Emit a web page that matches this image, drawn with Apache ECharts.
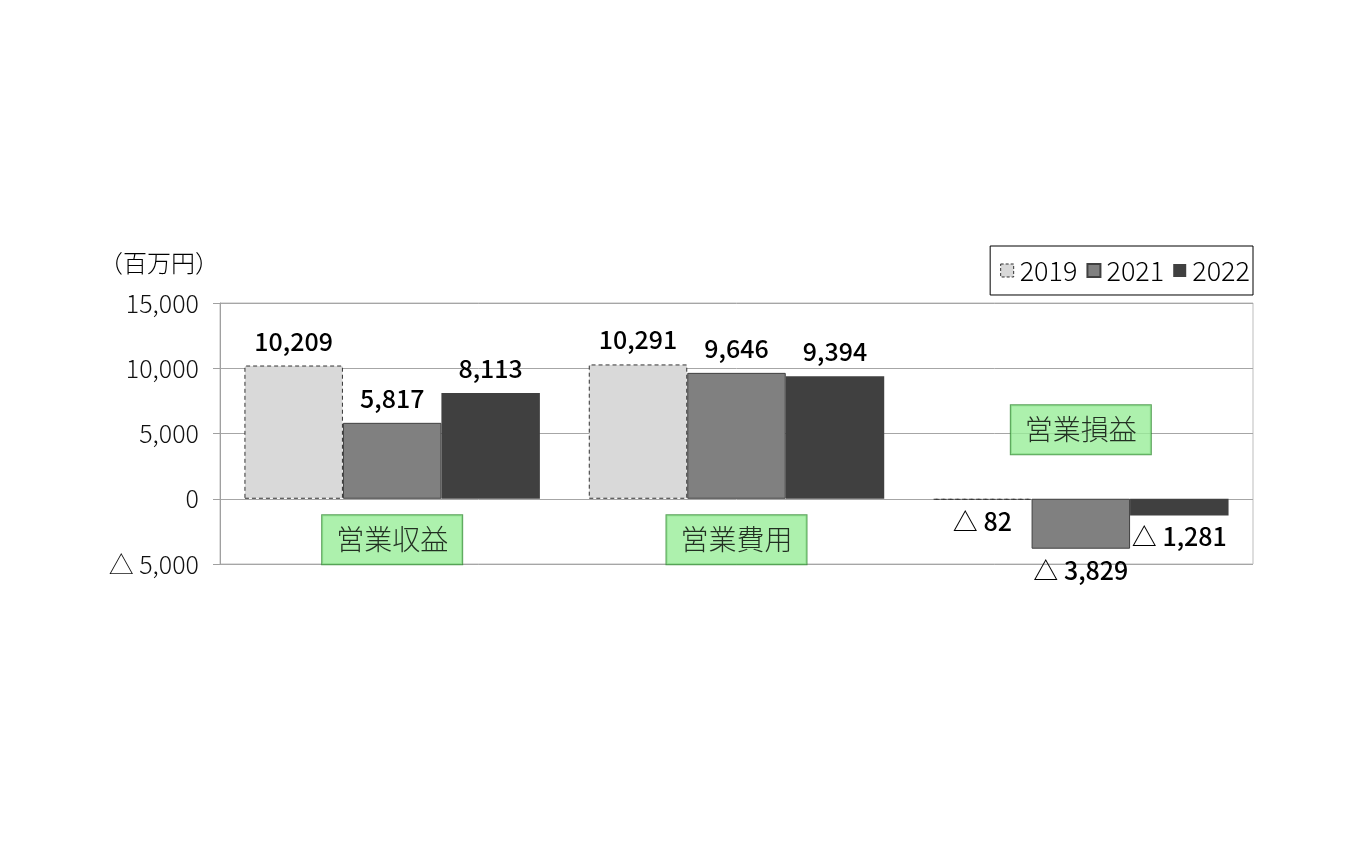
<!DOCTYPE html>
<html><head><meta charset="utf-8">
<script src="https://cdn.jsdelivr.net/npm/echarts@6/dist/echarts.min.js"></script>
<style>html,body{margin:0;padding:0;background:#fff}#c{width:1350px;height:844px}</style>
</head><body><div id="c"></div>
<script>
const categories = ['営業収益', '営業費用', '営業損益'];
const years = ['2019', '2021', '2022'];
const v2019 = [10209, 10291, -82];
const v2021 = [5817, 9646, -3829];
const v2022 = [8113, 9394, -1281];
const yTicks = [-5000, 0, 5000, 10000, 15000];

function fmt(v) {
  const s = Math.abs(v).toLocaleString('en-US');
  return v < 0 ? '△ ' + s : s;
}
const numFont = "'Liberation Sans Narrow','Noto Sans CJK JP',sans-serif";
const jpFont = "'Noto Sans CJK JP',sans-serif";

const styles = [
  {color: '#d9d9d9', borderColor: '#333333', borderWidth: 1, borderType: [4, 3]},
  {color: '#808080', borderColor: '#404040', borderWidth: 1},
  {color: '#404040', borderColor: '#404040', borderWidth: 0}
];
const seriesVals = [v2019, v2021, v2022];

const barSeries = years.map((y, i) => ({
  name: y,
  type: 'bar',
  barGap: '0%',
  barCategoryGap: '14.2%',
  itemStyle: styles[i],
  data: seriesVals[i].map(v => ({
    value: v,
    label: {position: v < 0 ? 'bottom' : 'top', distance: v < 0 ? 9 : 12}
  })),
  label: {
    show: true,
    color: '#000',
    fontFamily: numFont,
    fontWeight: 500,
    fontSize: 25,
    formatter: p => fmt(p.value)
  }
}));

const tagSeries = {
  name: 'tags',
  type: 'scatter',
  symbolSize: 1,
  itemStyle: {color: 'rgba(0,0,0,0)'},
  silent: true,
  z: 5,
  data: categories.map((c, i) => {
    const neg = seriesVals.every(s => s[i] < 0);
    return {name: c, value: [i, neg ? 5290 : -3150]};
  }),
  label: {
    show: true,
    position: 'inside',
    formatter: p => p.name,
    fontFamily: jpFont,
    fontWeight: 300,
    fontSize: 28,
    color: '#000',
    backgroundColor: '#99ee99',
    borderColor: '#2f8a2f',
    borderWidth: 1,
    padding: [10, 14, 10, 14],
    lineHeight: 29
  }
};

const chart = echarts.init(document.getElementById('c'));
chart.setOption({
  animation: false,
  title: {
    text: '（百万円）',
    left: 94, top: 246,
    textStyle: {fontFamily: jpFont, fontSize: 24, fontWeight: 300, color: '#000'}
  },
  legend: {
    data: years.map((y, i) => ({
      name: y,
      itemStyle: i === 0 ? {borderType: [3, 2], borderColor: '#333', borderWidth: 1} : {}
    })),
    icon: 'rect',
    right: 97, top: 246,
    backgroundColor: '#fff',
    borderColor: '#000',
    borderWidth: 1,
    padding: [11, 3, 11, 10],
    itemGap: 9,
    itemWidth: 13, itemHeight: 13,
    textStyle: {fontFamily: jpFont, fontSize: 27, fontWeight: 300, color: '#000', padding: [0, 0, 0, 1]}
  },
  grid: {
    left: 220, right: 97, top: 303, bottom: 280,
    show: true, borderColor: '#bdbdbd', borderWidth: 1
  },
  xAxis: {
    type: 'category',
    data: categories,
    axisLine: {show: false},
    axisTick: {show: false},
    axisLabel: {show: false}
  },
  yAxis: {
    type: 'value',
    min: yTicks[0], max: yTicks[yTicks.length - 1], interval: 5000,
    axisLine: {show: true, lineStyle: {color: '#a0a0a0'}},
    axisTick: {show: true, length: 7, lineStyle: {color: '#a0a0a0'}},
    splitLine: {lineStyle: {color: '#a6a6a6'}},
    axisLabel: {
      fontFamily: jpFont, fontSize: 25, fontWeight: 300, color: '#111', margin: 21,
      formatter: v => fmt(v)
    }
  },
  series: [...barSeries, tagSeries]
});
</script></body></html>
